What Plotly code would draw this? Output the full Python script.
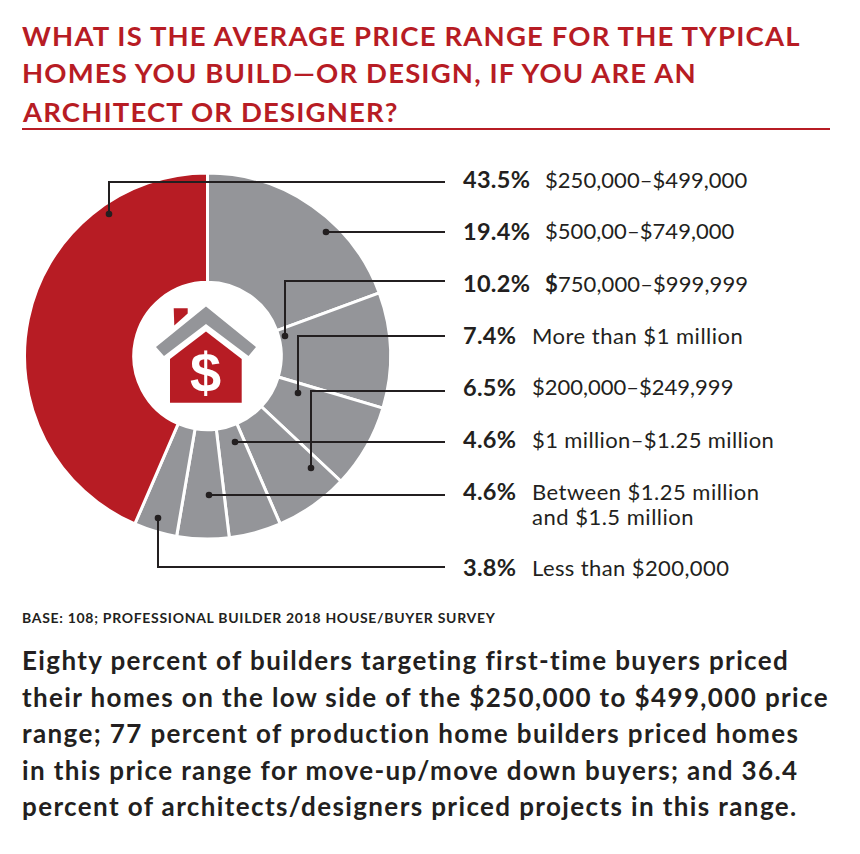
import json
import plotly.graph_objects as go

W, H = 860, 854
categories = ["$500,00–$749,000", "$750,000–$999,999", "More than $1 million", "$200,000–$249,999",
              "$1 million–$1.25 million", "Between $1.25 million", "Less than $200,000", "$250,000–$499,000"]
shares = [19.4, 10.2, 7.4, 6.5, 4.6, 4.6, 3.8, 43.5]
RED, GREY, INK = "#b71c24", "#949599", "#231f20"
slice_colors = [GREY] * 7 + [RED]

title_lines = ["WHAT IS THE AVERAGE PRICE RANGE FOR THE TYPICAL",
               "HOMES YOU BUILD—OR DESIGN, IF YOU ARE AN",
               "ARCHITECT OR DESIGNER?"]
body_lines = ["Eighty percent of builders targeting first-time buyers priced",
              "their homes on the low side of the $250,000 to $499,000 price",
              "range; 77 percent of production home builders priced homes",
              "in this price range for move-up/move down buyers; and 36.4",
              "percent of architects/designers priced projects in this range."]
base_note = "BASE: 108; PROFESSIONAL BUILDER 2018 HOUSE/BUYER SURVEY"

# percent, label, label x, row y, label tracking
legend_rows = [("43.5%", "$250,000–$499,000", 545, 179, 0.05),
               ("19.4%", "$500,00–$749,000", 545, 231, 0.05),
               ("10.2%", "<b>$</b>750,000–$999,999", 545, 283, 0.1),
               ("7.4%", "More than $1 million", 532, 335, 0.5),
               ("6.5%", "$200,000–$249,999", 532, 387, 0),
               ("4.6%", "$1 million–$1.25 million", 532, 439, 0.37),
               ("4.6%", "Between $1.25 million", 532, 491, 0.48),
               (None, "and $1.5 million", 532, 516, 0.5),
               ("3.8%", "Less than $200,000", 532, 567, 0.4)]

# leader paths: dot, optional elbow, then out to the legend column
leaders = [(109, 214, 182), (326, 232, 232), (285, 336, 281), (298, 393, 336),
           (311, 468, 391), (235, 442, 442), (209, 495, 495), (158, 518, 567)]
LEADER_END = 445


def px(x):
    return x / W


def py(y):
    return 1 - y / H


def path(points):
    return "M" + " L".join(f"{px(x):.5f},{py(y):.5f}" for x, y in points) + " Z"


fig = go.Figure(go.Pie(
    values=shares, labels=categories, sort=False, direction="clockwise", rotation=0,
    hole=0.403, textinfo="none", showlegend=False,
    marker=dict(colors=slice_colors, line=dict(color="white", width=3)),
    domain=dict(x=[px(24.5), px(390.5)], y=[py(539), py(173)]),
))

shapes = [dict(type="line", xref="paper", yref="paper", x0=px(22), x1=px(830), y0=py(129), y1=py(129),
               line=dict(color=RED, width=2))]
for x, y, elbow in leaders:
    pts = [(x, y), (x, elbow), (LEADER_END, elbow)]
    d = "M" + " L".join(f"{px(a):.5f},{py(b):.5f}" for a, b in pts)
    shapes.append(dict(type="path", xref="paper", yref="paper", path=d, line=dict(color=INK, width=2)))
    shapes.append(dict(type="circle", xref="paper", yref="paper", x0=px(x - 3.3), x1=px(x + 3.3),
                       y0=py(y + 3.3), y1=py(y - 3.3), fillcolor=INK, line=dict(width=0)))

icon = [
    (RED, [(173.7, 308.3), (187.7, 308.3), (187.7, 313.5), (174.3, 325.5)]),
    (GREY, [(206, 306.5), (256, 347), (248.5, 356), (206, 324), (164, 356), (156, 347)]),
    (RED, [(170, 359), (206, 331.5), (241.7, 359), (241.7, 402.7), (170, 402.7)]),
]
for color, pts in icon:
    shapes.append(dict(type="path", xref="paper", yref="paper", path=path(pts), fillcolor=color,
                       line=dict(width=0)))

tracking = {}


def text(x, y, s, size, color=INK, bold=False, family="Lato", anchor="left", ls=0):
    plain = s.replace("<b>", "").replace("</b>", "")
    tracking[plain] = ls
    return dict(xref="paper", yref="paper", x=px(x), y=py(y), xanchor=anchor, yanchor="middle", align=anchor,
                text=f"<b>{s}</b>" if bold else s, showarrow=False,
                font=dict(family=family, size=size, color=color), borderpad=0, borderwidth=0)


ann = []
for line, y in zip(title_lines, [35, 73, 111]):
    ann.append(text(22, y, line, 27.5, RED, True, ls=1.15))
for pct, label, x, y, ls in legend_rows:
    if pct:
        ann.append(text(463, y, pct, 23.5, INK, True, ls=0.3))
    ann.append(text(x, y, label, 22, INK, ls=ls))
ann.append(text(22, 617, base_note, 14, INK, True, ls=0.7))
for line, y in zip(body_lines, [660, 697, 733, 770, 806]):
    ann.append(text(22, y, line, 26, INK, True, ls=1.38))
ann.append(text(205, 372, "$", 56, "white", True, "Liberation Sans", "center"))

fig.update_layout(width=W, height=H, margin=dict(l=0, r=0, t=0, b=0), paper_bgcolor="white",
                  shapes=shapes, annotations=ann)

post = ("document.body.style.margin='0';"
        "var T=" + json.dumps(tracking) + ";"
        "document.querySelectorAll('.annotation-text').forEach(function(e){"
        "var v=T[e.textContent];if(v){e.style.letterSpacing=v+'px';}});")
fig.write_html("out.html", post_script=post, config={"displayModeBar": False})
